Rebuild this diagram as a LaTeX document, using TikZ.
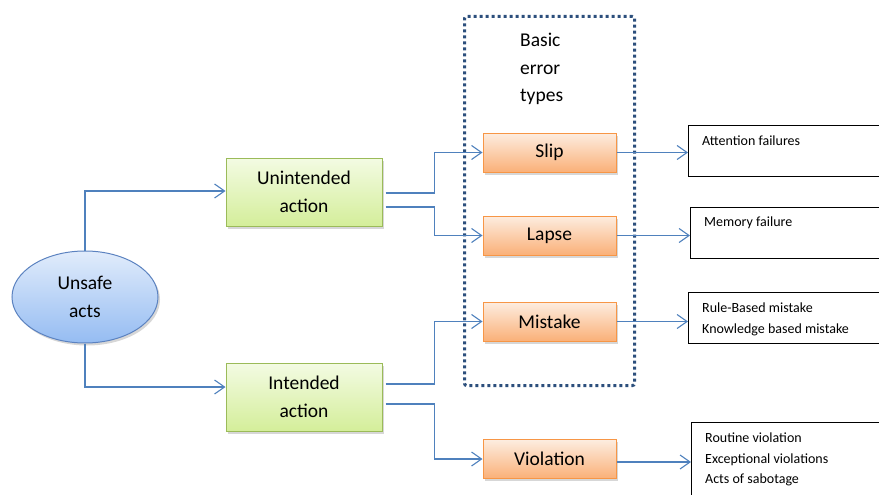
\documentclass[tikz,border=0pt]{standalone}
\usepackage{fontspec}
\setmainfont{Carlito}
\usetikzlibrary{arrows.meta,shapes.geometric,shadows,calc}
\definecolor{lineblue}{HTML}{4F81BD}
\definecolor{navy}{HTML}{2C4F7C}
\definecolor{greentop}{HTML}{F3FBE3}
\definecolor{greenbot}{HTML}{D4EE9A}
\definecolor{greenline}{HTML}{9BBB59}
\definecolor{orangetop}{HTML}{FDEDE0}
\definecolor{orangebot}{HTML}{FAB078}
\definecolor{orangeline}{HTML}{F79646}
\definecolor{bluetop}{HTML}{E1ECFB}
\definecolor{bluebot}{HTML}{95BCF2}
\definecolor{blueline}{HTML}{5B82C0}
\tikzset{
  shadowed/.style={drop shadow={shadow xshift=2pt,shadow yshift=-2.5pt,fill=black!35,opacity=0.45}},
  mainfont/.style={font=\fontsize{19.5}{28}\selectfont},
  actbox/.style={shadowed,draw=greenline,line width=1pt,top color=greentop,bottom color=greenbot,
    minimum width=156pt,minimum height=68pt,align=center,mainfont,inner sep=0pt},
  errbox/.style={shadowed,draw=orangeline,line width=1pt,top color=orangetop,bottom color=orangebot,
    minimum width=133pt,minimum height=39pt,mainfont,inner sep=0pt},
  actsell/.style={shadowed,ellipse,draw=blueline,line width=1pt,top color=bluetop,bottom color=bluebot,
    minimum width=146pt,minimum height=92pt,align=center,mainfont,inner sep=0pt},
  descbox/.style={draw=black,line width=0.9pt,fill=white,anchor=north west,inner sep=0pt},
  desctxt/.style={anchor=base west,inner sep=0pt,font=\fontsize{14}{21}\selectfont},
  grouptxt/.style={anchor=base west,inner sep=0pt,mainfont},
  conn/.style={draw=lineblue,line width=1.2pt,-{Straight Barb[length=10pt,width=14pt,line width=1.1pt]}},
  groupbox/.style={draw=navy,line width=3pt,dash pattern=on 3pt off 3pt,rounded corners=2pt,
    anchor=north west,inner sep=0pt}
}
\begin{document}
\begin{tikzpicture}[x=1pt,y=-1pt]
\useasboundingbox (0,0) rectangle (879,495);
% group box
\node[groupbox,minimum width=170pt,minimum height=369pt] (grp) at (463,15) {};
\node[grouptxt] (g1) at (520,47) {Basic};
\node[grouptxt] (g2) at (520,75) {error};
\node[grouptxt] (g3) at (520,102) {types};
% main nodes
\node[actsell] (E) at (85,297) {Unsafe\\acts};
\node[actbox] (UA) at (304,192) {Unintended\\action};
\node[actbox] (IA) at (304,397) {Intended\\action};
\node[errbox] (S) at (549.5,152.5) {Slip};
\node[errbox] (L) at (549.5,235.5) {Lapse};
\node[errbox] (M) at (549.5,321.5) {Mistake};
\node[errbox] (V) at (549.5,459) {Violation};
% description boxes
\node[descbox,minimum width=200pt,minimum height=51pt] (D1) at (688,125) {};
\node[descbox,minimum width=200pt,minimum height=51pt] (D2) at (690,207) {};
\node[descbox,minimum width=200pt,minimum height=51pt] (D3) at (688,292) {};
\node[descbox,minimum width=200pt,minimum height=90pt] (D4) at (691,422) {};
\node[desctxt] (t1) at (702,145) {Attention failures};
\node[desctxt] (t2) at (704,226) {Memory failure};
\node[desctxt] (t3) at (702,312) {Rule-Based mistake};
\node[desctxt] (t4) at (702,333) {Knowledge based mistake};
\node[desctxt] (t5) at (705,442) {Routine violation};
\node[desctxt] (t6) at (705,463) {Exceptional violations};
\node[desctxt] (t7) at (705,483) {Acts of sabotage};
% connectors
\draw[conn] (E.north) |- ([yshift=1pt]UA.west);
\draw[conn] (E.south) |- ([yshift=10pt]IA.west);
\draw[conn] ([xshift=3pt,yshift=-1pt]UA.east) -- ++(49,0) |- (S.west);
\draw[conn] ([xshift=3pt,yshift=-15pt]UA.east) -- ++(49,0) |- (L.west);
\draw[conn] ([xshift=3pt,yshift=13pt]IA.east) -- ++(49,0) |- (M.west);
\draw[conn] ([xshift=3pt,yshift=-7pt]IA.east) -- ++(49,0) |- (V.west);
\draw[conn] (S.east) -- (S.east -| D1.west);
\draw[conn] (L.east) -- (L.east -| D2.west);
\draw[conn] (M.east) -- (M.east -| D3.west);
\draw[conn] ([yshift=-3pt]V.east) -- ([yshift=-3pt]V.east -| D4.west);
\end{tikzpicture}
\end{document}
